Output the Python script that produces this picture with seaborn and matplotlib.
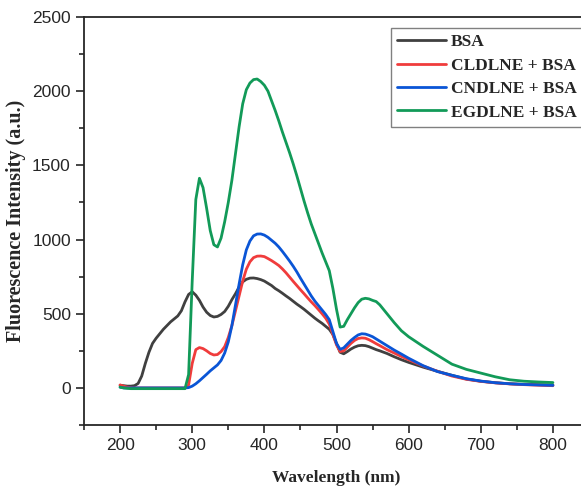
"""
BSA fluorescence spectra with/without DLNE samples
"""

import numpy as np
import pandas as pd
import matplotlib
matplotlib.use("Agg")
import matplotlib.pyplot as plt
from matplotlib.ticker import MultipleLocator
import seaborn as sns

sns.set_style("ticks")
plt.rcParams['font.family'] = ['Liberation Sans', 'DejaVu Sans']

# wavelength grid (nm): 5 nm steps up to 560, coarser in the tail
wavelength = list(range(200, 561, 5)) + [570, 580, 590, 600, 620, 640, 660, 680,
                                         700, 720, 740, 760, 780, 800]

bsa = [18, 15, 12, 12, 15, 30, 80, 165, 240, 300, 335, 365, 395, 420, 445,
       465, 485, 520, 580, 630, 648, 625, 590, 545, 510, 488, 478, 482, 495,
       515, 550, 595, 635, 680, 715, 732, 740, 741, 737, 730, 720, 705, 690,
       670, 655, 638, 620, 603, 584, 565, 548, 530, 510, 490, 470, 452, 435,
       415, 395, 360, 300, 240, 230, 245, 262, 275, 284, 287, 285, 278, 268,
       258, 250,
       232, 210, 190, 172, 140, 112, 85, 60, 45, 35, 28, 24, 22, 20]

cldlne = [20, 12, 5, 2, 0, 0, 0, 0, 0, 0, 0, 0, 0, 0, 0,
          0, 0, 0, 0, 20, 165, 258, 272, 265, 250, 232, 222, 225, 245,
          278, 340, 420, 520, 620, 720, 800, 850, 878, 888, 889, 885, 872, 858,
          842, 825, 802, 776, 747, 718, 690, 662, 635, 607, 580, 555, 528, 500,
          470, 430, 360, 290, 245, 250, 275, 300, 320, 333, 337, 335, 325, 312,
          298, 285,
          258, 235, 212, 190, 148, 112, 80, 58, 44, 34, 27, 22, 18, 15]

cndlne = [5, 0, 0, 0, 0, 0, 0, 0, 0, 0, 0, 0, 0, 0, 0,
          0, 0, 0, 0, 2, 12, 28, 48, 70, 92, 115, 135, 155, 185,
          235, 310, 420, 560, 700, 830, 930, 990, 1025, 1037, 1038, 1030, 1015, 995,
          975, 950, 920, 888, 855, 820, 782, 740, 700, 660, 620, 585, 555, 525,
          495, 460, 380, 300, 260, 270, 295, 320, 340, 357, 365, 363, 355, 345,
          330, 315,
          285, 255, 228, 200, 150, 110, 85, 62, 46, 35, 28, 23, 20, 17]

egdlne = [5, 0, -3, -5, -5, -5, -5, -5, -5, -5, -5, -5, -5, -5, -5,
          -5, -5, -5, -5, 90, 720, 1270, 1413, 1350, 1210, 1060, 965, 950, 1010,
          1120, 1250, 1400, 1580, 1760, 1915, 2010, 2055, 2078, 2082, 2065, 2040, 2000, 1935,
          1870, 1800, 1725, 1655, 1585, 1510, 1430, 1345, 1260, 1180, 1105, 1040, 975, 910,
          850, 790, 670, 530, 410, 415, 460, 500, 540, 575, 598, 604, 600, 590,
          582, 560,
          500, 440, 385, 345, 280, 220, 160, 125, 100, 75, 55, 45, 40, 36]

labels = ['BSA', 'CLDLNE + BSA', 'CNDLNE + BSA', 'EGDLNE + BSA']
colors = ['#404040', '#f03c3c', '#0a55d6', '#129a58']

frames = []
for name, vals in zip(labels, [bsa, cldlne, cndlne, egdlne]):
    frames.append(pd.DataFrame({'wl': wavelength, 'intensity': vals, 'sample': name}))
df = pd.concat(frames, ignore_index=True)

fig = plt.figure(figsize=(5.81, 4.88), dpi=100)
ax = fig.add_axes([84 / 581, 63 / 488, 505 / 581, 408 / 488])

sns.lineplot(data=df, x='wl', y='intensity', hue='sample',
             palette=dict(zip(labels, colors)), linewidth=2.0, ax=ax)

ax.set_xlim(150, 850)
ax.set_ylim(-250, 2500)
ax.xaxis.set_minor_locator(MultipleLocator(50))
ax.yaxis.set_major_locator(MultipleLocator(500))
ax.yaxis.set_minor_locator(MultipleLocator(250))
ax.set_xticks(np.arange(200, 801, 100))
ax.tick_params(which='major', direction='out', length=6, width=1.2, labelsize=12.5)
ax.tick_params(which='minor', direction='out', length=3.5, width=1.2)
for sp in ax.spines.values():
    sp.set_linewidth(1.3)

ax.set_xlabel('Wavelength (nm)', family='Liberation Serif', weight='bold',
              size=12.5, labelpad=12)
ax.set_ylabel('Fluorescence Intensity (a.u.)', family='Liberation Serif',
              weight='bold', size=14.5, labelpad=4)

leg = ax.legend(loc='upper right', bbox_to_anchor=(583 / 581, 1 - 28 / 488),
                bbox_transform=fig.transFigure, fancybox=False, framealpha=1,
                edgecolor='#808080', handlelength=2.8, borderaxespad=0,
                borderpad=0.35, prop={'family': 'Liberation Serif', 'weight': 'bold',
                                      'size': 12.5},
                labelspacing=0.42, handletextpad=0.3)
leg.get_frame().set_linewidth(1.0)
for line in leg.get_lines():
    line.set_linewidth(2.0)

fig.savefig('out.png', dpi=100)
